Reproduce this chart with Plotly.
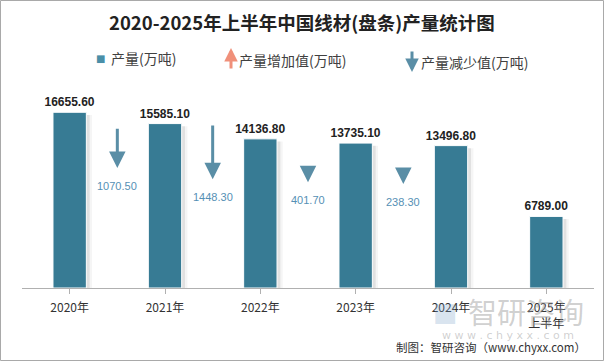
import plotly.graph_objects as go

# ---- data ----
categories = ["2020年", "2021年", "2022年", "2023年", "2024年", "2025年<br>上半年"]
production = [16655.60, 15585.10, 14136.80, 13735.10, 13496.80, 6789.00]
decrease = [1070.50, 1448.30, 401.70, 238.30]   # between consecutive years 2020..2024

W, H = 604, 361
ML, MR, MT, MB = 22, 10, 77, 73
PW, PH = W - ML - MR, H - MT - MB
YMAX = 20000

BAR = "#377b94"
ARROW = "#5a8ea6"
LABEL_BLUE = "#5590b5"
CJK = "Noto Sans CJK SC"

fig = go.Figure()
xs = list(range(len(categories)))

# soft shadow to the right of bars
for off, alpha in [(0.06, 0.04), (0.035, 0.08)]:
    fig.add_trace(go.Bar(
        x=xs, y=[v - 250 for v in production], width=0.35, offset=-0.175 + off,
        marker=dict(color=f"rgba(0,0,0,{alpha})", line=dict(width=0)),
        hoverinfo="skip", showlegend=False))

fig.add_trace(go.Bar(
    x=xs, y=production, width=0.35, offset=-0.175,
    marker=dict(color=BAR, line=dict(color="white", width=1)),
    text=[f"{v:.2f}" for v in production], textposition="outside", constraintext="none",
    textfont=dict(family="Liberation Sans", size=12, color="#222222", weight="bold"),
    cliponaxis=False, hoverinfo="skip", showlegend=False))

def px(x):  # pixel x -> paper x
    return (x - ML) / PW

def py(y):  # pixel y -> paper y
    return (H - MB - y) / PH

def note(x, y, text, font, xanchor="center"):
    return dict(x=px(x), y=py(y), xref="paper", yref="paper", xanchor=xanchor, yanchor="middle",
                text=text, showarrow=False, font=font)

annotations = []
# decrease arrows between bars
for i, d in enumerate(decrease):
    head = production[i + 1] * 0.73
    tail = head + max(d * 3.6, 1000)
    annotations.append(dict(
        x=i + 0.5, y=head, ax=i + 0.5, ay=tail, xref="x", yref="y", axref="x", ayref="y",
        text="", showarrow=True, arrowhead=2, arrowsize=1.1, arrowwidth=3,
        arrowcolor=ARROW, standoff=0, startstandoff=0))
    annotations.append(dict(
        x=i + 0.5, y=head, xref="x", yref="y", yshift=-18, xanchor="center", yanchor="middle",
        text=f"{d:.2f}", showarrow=False,
        font=dict(family="Liberation Sans", size=11, color=LABEL_BLUE)))

# title
annotations.append(note(302, 22, "<b>2020-2025年上半年中国线材(盘条)产量统计图</b>",
                        dict(family=CJK, size=18.5, color="#222222")))

# legend
legend_font = dict(family=CJK, size=14, color="#404040")
annotations += [
    note(100.5, 58, "■", dict(family="DejaVu Sans", size=10, color="#4a8fa8")),
    note(109, 58, "产量(万吨)", legend_font, "left"),
    dict(x=px(231), y=py(48), xref="paper", yref="paper", ax=0, ay=22, text="", showarrow=True,
         arrowhead=2, arrowsize=0.9, arrowwidth=3, arrowcolor="#f0907a", standoff=0),
    note(237, 60, "产量增加值(万吨)", legend_font, "left"),
    dict(x=px(412), y=py(72), xref="paper", yref="paper", ax=0, ay=-22, text="", showarrow=True,
         arrowhead=2, arrowsize=0.9, arrowwidth=3, arrowcolor=ARROW, standoff=0),
    note(419, 62, "产量减少值(万吨)", legend_font, "left"),
]

# watermark
annotations += [
    note(526, 311, "智研咨询", dict(family=CJK, size=29, color="rgba(150,150,150,0.45)")),
    note(508, 335, "w w w . c h y x x . c o m",
         dict(family="DejaVu Sans", size=11, color="rgba(150,150,150,0.45)")),
    note(445, 312, "■", dict(family="DejaVu Sans", size=26, color="rgba(120,160,200,0.3)")),
]
# footer
annotations.append(note(588, 347, "制图：智研咨询（www.chyxx.com）",
                        dict(family=CJK, size=11.5, color="#333333"), "right"))

fig.update_layout(
    width=W, height=H, margin=dict(l=ML, r=MR, t=MT, b=MB, autoexpand=False),
    paper_bgcolor="white", plot_bgcolor="white",
    barmode="overlay", showlegend=False,
    xaxis=dict(tickmode="array", tickvals=xs, ticktext=categories, range=[-0.5, 5.5],
               showgrid=False, zeroline=False, showline=True, linecolor="#b0b0b0", linewidth=1,
               ticks="outside", ticklen=5, tickcolor="#b0b0b0", ticklabelstandoff=4,
               tickfont=dict(family=CJK, size=12, color="#333333")),
    yaxis=dict(range=[0, YMAX], visible=False, showgrid=False),
    annotations=annotations,
    shapes=[dict(type="rect", xref="paper", yref="paper",
                 x0=px(0.5), x1=px(W - 0.5), y0=py(H - 0.5), y1=py(0.5),
                 line=dict(color="#a9a9a9", width=1))],
)

# ticks at category boundaries
fig.update_xaxes(tickson="boundaries")

fig.write_html("out.html", config={"displayModeBar": False},
               post_script="document.body.style.margin='0px';")
